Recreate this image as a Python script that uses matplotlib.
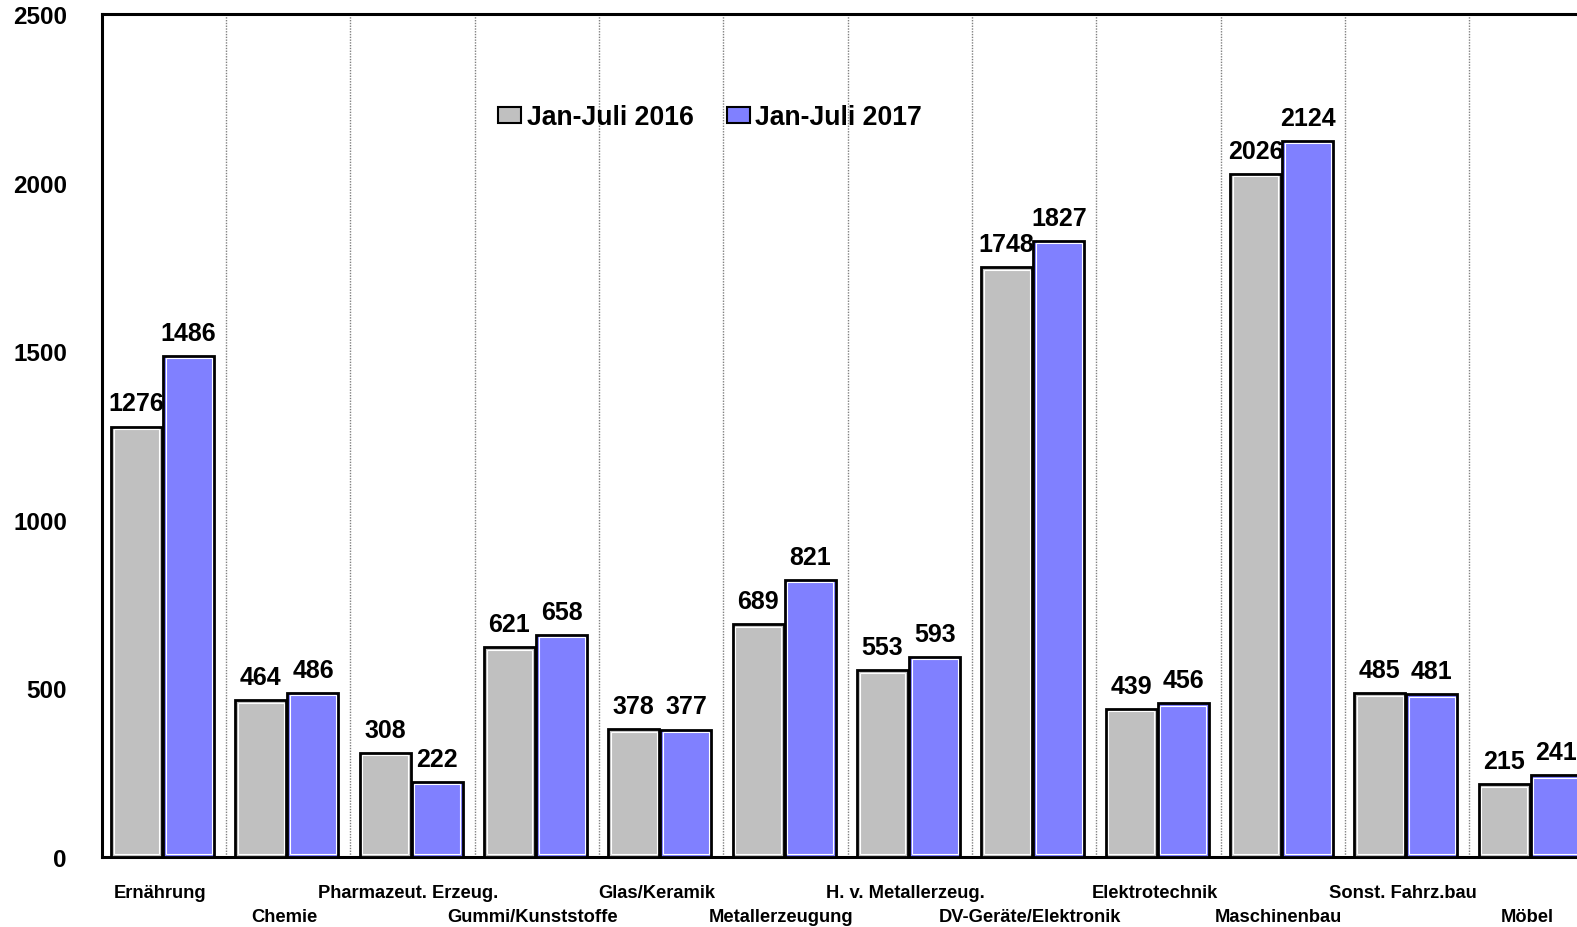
import matplotlib
matplotlib.use("Agg")
import matplotlib.pyplot as plt
import matplotlib.transforms as mtransforms
import numpy as np

categories = ["Ernährung", "Chemie", "Pharmazeut. Erzeug.", "Gummi/Kunststoffe",
              "Glas/Keramik", "Metallerzeugung", "H. v. Metallerzeug.",
              "DV-Geräte/Elektronik", "Elektrotechnik", "Maschinenbau",
              "Sonst. Fahrz.bau", "Möbel"]
values_2016 = [1276, 464, 308, 621, 378, 689, 553, 1748, 439, 2026, 485, 215]
values_2017 = [1486, 486, 222, 658, 377, 821, 593, 1827, 456, 2124, 481, 241]
series_names = ["Jan-Juli 2016", "Jan-Juli 2017"]
yticks = [0, 500, 1000, 1500, 2000, 2500]

plt.rcParams['font.family'] = ['Liberation Sans', 'DejaVu Sans']
plt.rcParams['font.weight'] = 'bold'

W, H = 1577, 928
fig = plt.figure(figsize=(W / 100, H / 100), dpi=100)
px_left, px_right, px_top, px_bottom = 101.6, 1593.6, 15, 857.6
ax = fig.add_axes([px_left / W, 1 - px_bottom / H, (px_right - px_left) / W, (px_bottom - px_top) / H])

ymax = 2500
x = np.arange(len(categories))
bw = 0.41
off = 0.21
colors = ["#C0C0C0", "#8080FF"]

# pixel -> data conversion for the thin white inner outline
ux = len(categories) / (px_right - px_left)
uy = ymax / (px_bottom - px_top)
ix, iy = 2.6 * ux, 2.6 * uy

bars_all = []
for vals, sgn, col, name in ((values_2016, -1, colors[0], series_names[0]),
                             (values_2017, 1, colors[1], series_names[1])):
    v = np.array(vals, dtype=float)
    b = ax.bar(x + sgn * off - 0.01, v, bw, color=col, edgecolor="black", linewidth=2.0,
               label=name, zorder=3)
    ax.bar(x + sgn * off - 0.01, v - 2 * iy, bw - 2 * ix, bottom=iy, facecolor="none",
           edgecolor="white", linewidth=0.8, zorder=4)
    bars_all.append((b, vals))

for bars, vals in bars_all:
    for r, v in zip(bars, vals):
        ax.annotate(f"{v}", (r.get_x() + r.get_width() / 2, v), xytext=(0, 8),
                    textcoords="offset points", ha="center", va="bottom",
                    fontsize=18, fontweight="bold", annotation_clip=False)

ax.set_xlim(-0.5, len(categories) - 0.5)
ax.set_ylim(0, ymax)
ax.set_yticks(yticks)
ax.set_yticklabels([str(t) for t in yticks], fontsize=17.5, fontweight="bold")
ax.tick_params(axis="y", length=0, pad=25)

for bnd in np.arange(0.5, len(categories) - 0.5, 1):
    ax.axvline(bnd, color="#808080", linestyle=(0, (1, 1)), linewidth=1, zorder=1)

ax.set_xticks(x)
ax.set_xticklabels(categories, fontsize=13.2, fontweight="bold")
ax.tick_params(axis="x", length=0, pad=20)
shift = mtransforms.ScaledTranslation(-4 / 100, 0, fig.dpi_scale_trans)
for i, lab in enumerate(ax.get_xticklabels()):
    lab.set_transform(lab.get_transform() + shift)
    if i % 2 == 1:
        lab.set_y(-24 / (px_bottom - px_top))

for s in ["left", "top", "bottom", "right"]:
    ax.spines[s].set_linewidth(2.2)
    ax.spines[s].set_color("black")

leg = ax.legend(loc="center left", bbox_to_anchor=(498 / W, 1 - 118.5 / H),
                bbox_transform=fig.transFigure, ncol=2, frameon=False,
                fontsize=19.2, handlelength=0.87, handleheight=0.57, handletextpad=0.2,
                columnspacing=1.25, borderaxespad=0, borderpad=0)
for t in leg.get_texts():
    t.set_fontweight("bold")
for p in leg.get_patches():
    p.set_linewidth(1.5)

fig.savefig("out.png", dpi=100)
